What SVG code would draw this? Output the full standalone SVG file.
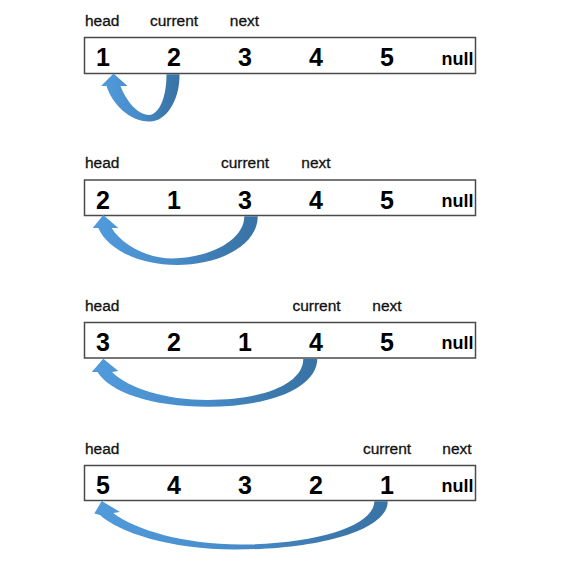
<svg xmlns="http://www.w3.org/2000/svg" width="587" height="562" viewBox="0 0 587 562">
<style>
.box{fill:#fff;stroke:#4a4a4a;stroke-width:1.5}
.lbl{font-family:"Liberation Sans",Arial,sans-serif;font-size:15.5px;fill:#111;stroke:#111;stroke-width:0.3}
.num{font-family:"Liberation Sans",Arial,sans-serif;font-size:25px;font-weight:bold;fill:#000;text-anchor:middle}
.nul{font-family:"Liberation Sans",Arial,sans-serif;font-size:18px;font-weight:bold;fill:#000}
.mid{text-anchor:middle}
.arr{fill:url(#g)}
</style>
<defs>
<linearGradient id="g" x1="0" y1="0" x2="1" y2="0">
<stop offset="0" stop-color="#519bdc"/>
<stop offset="0.5" stop-color="#478bc9"/>
<stop offset="0.8" stop-color="#3c79ad"/>
<stop offset="1" stop-color="#3973a6"/>
</linearGradient>
</defs>
<rect width="587" height="562" fill="#fff"/>

<g id="row1">
<rect class="box" x="84.5" y="37.5" width="391" height="36"/>
<text class="lbl" x="85" y="25.7">head</text>
<text class="lbl mid" x="174" y="25.7">current</text>
<text class="lbl mid" x="244.5" y="25.7">next</text>
<text class="num" x="103" y="66">1</text>
<text class="num" x="174" y="66">2</text>
<text class="num" x="245" y="66">3</text>
<text class="num" x="316" y="66">4</text>
<text class="num" x="387" y="66">5</text>
<text class="nul" x="441.5" y="64.5">null</text>
</g>

<g id="row2">
<rect class="box" x="84.5" y="180" width="391" height="35.5"/>
<text class="lbl" x="85" y="168.3">head</text>
<text class="lbl mid" x="245" y="168.3">current</text>
<text class="lbl mid" x="316" y="168.3">next</text>
<text class="num" x="103" y="208.5">2</text>
<text class="num" x="174" y="208.5">1</text>
<text class="num" x="245" y="208.5">3</text>
<text class="num" x="316" y="208.5">4</text>
<text class="num" x="387" y="208.5">5</text>
<text class="nul" x="441.5" y="207">null</text>
</g>

<g id="row3">
<rect class="box" x="84.5" y="322.5" width="391" height="35.5"/>
<text class="lbl" x="85" y="310.5">head</text>
<text class="lbl mid" x="316.5" y="310.5">current</text>
<text class="lbl mid" x="387" y="310.5">next</text>
<text class="num" x="103" y="350.5">3</text>
<text class="num" x="174" y="350.5">2</text>
<text class="num" x="245" y="350.5">1</text>
<text class="num" x="316" y="350.5">4</text>
<text class="num" x="387" y="350.5">5</text>
<text class="nul" x="441.5" y="349">null</text>
</g>

<g id="row4">
<rect class="box" x="84.5" y="465.5" width="391" height="35"/>
<text class="lbl" x="85" y="453.5">head</text>
<text class="lbl mid" x="387" y="453.5">current</text>
<text class="lbl mid" x="457" y="453.5">next</text>
<text class="num" x="103" y="493.5">5</text>
<text class="num" x="174" y="493.5">4</text>
<text class="num" x="245" y="493.5">3</text>
<text class="num" x="316" y="493.5">2</text>
<text class="num" x="387" y="493.5">1</text>
<text class="nul" x="441.5" y="492">null</text>
</g>

<g id="connectors">
<path class="arr" d="M179.5,74.2 C180,100 166,121.5 150,121.5 C130,122 112,104 106.5,86 L101,86 L113.5,73.5 L127.5,86 L120.5,86 C126,101 138,115 149,115 C160,114 166.5,96 166.5,74.2 Z"/>
<path class="arr" d="M257.7,216.2 C258,245 220,265 177,265 C140,265 108,250 98.3,228 L92.7,228 L103.3,215 L118.3,228 L111.7,228 C122,245 148,258.5 172,258.5 C210,258 244.3,240 244.3,216.2 Z"/>
<path class="arr" d="M317.3,358.7 C317,388 270,406.7 208,406.7 C150,406.7 110,392 97.5,372 L91.7,372 L103.3,358.8 L118.3,371 L112,372 C128,388 165,400 208,400 C260,400 303.3,385 303.3,358.7 Z"/>
<path class="arr" d="M387.7,501.2 C388,530 320,549.5 235,549.5 C170,549.5 118,532 100,515 L94.3,513.5 L101.7,501 L120,512 L113.3,513 C135,530 185,544.5 240,544.5 C320,544 374.3,525 374.3,501.2 Z"/>
</g>
</svg>
